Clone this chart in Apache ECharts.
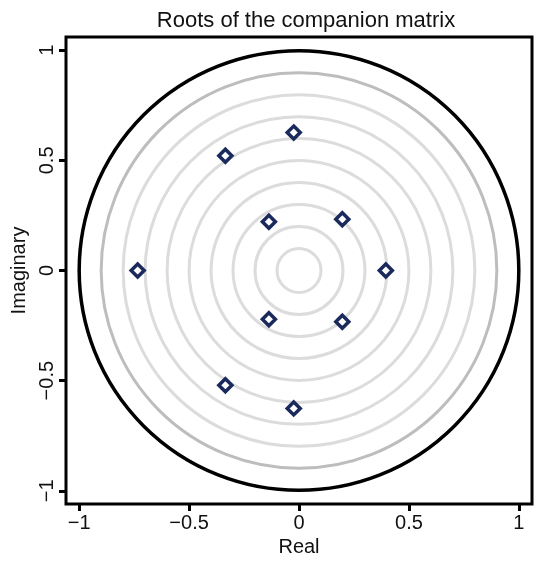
<!DOCTYPE html>
<html>
<head>
<meta charset="utf-8">
<script src="https://cdn.jsdelivr.net/npm/echarts@6/dist/echarts.min.js"></script>
<style>
  html, body { margin: 0; padding: 0; background: #fff; }
  #chart { width: 550px; height: 570px; }
</style>
</head>
<body>
<div id="chart"></div>
<script>
// roots of the companion matrix
var realPart = [-0.734, 0.395, -0.335, -0.335, -0.024, -0.024, -0.137, -0.137, 0.197, 0.197];
var imagPart = [0, 0, 0.521, -0.521, 0.626, -0.626, 0.221, -0.221, 0.233, -0.233];

// reference circles
var lightRadii = [0.1, 0.2, 0.3, 0.4, 0.5, 0.6, 0.7, 0.8];
var midRadii = [0.9];
var unitRadii = [1];

var tickValues = [-1, -0.5, 0, 0.5, 1];
var font = 'Liberation Sans, Arial, Helvetica, sans-serif';

function circleSeries(radii, color, width, z) {
  return {
    type: 'custom',
    coordinateSystem: 'cartesian2d',
    z: z,
    silent: true,
    data: radii.map(function (r) { return [r, 0]; }),
    encode: { x: 0, y: 1 },
    renderItem: function (params, api) {
      var c = api.coord([0, 0]);
      var s = api.size([api.value(0), api.value(0)]);
      return {
        type: 'circle',
        shape: { cx: c[0], cy: c[1], r: s[0] },
        style: { fill: 'none', stroke: color, lineWidth: width }
      };
    }
  };
}

var chart = echarts.init(document.getElementById('chart'));

var points = realPart.map(function (x, i) { return [x, imagPart[i]]; });

var axisCommon = {
  type: 'value',
  min: -1.06,
  max: 1.06,
  splitLine: { show: false },
  axisLine: { show: false, onZero: false },
  nameLocation: 'middle',
  nameTextStyle: { fontFamily: font, fontSize: 20, color: '#111' },
  axisTick: {
    show: true,
    inside: false,
    length: 7,
    customValues: tickValues,
    lineStyle: { color: '#000', width: 3 }
  },
  axisLabel: {
    customValues: tickValues,
    fontFamily: font,
    fontSize: 20,
    color: '#111',
    margin: 9,
    formatter: function (v) { return String(v).replace('-', '\u2212'); }
  }
};

var option = {
  animation: false,
  backgroundColor: '#fff',
  title: {
    text: 'Roots of the companion matrix',
    left: 301,
    textAlign: 'center',
    top: 5,
    textStyle: { fontFamily: font, fontSize: 22, fontWeight: 'normal', color: '#111' }
  },
  grid: {
    left: 66, right: 18, top: 37, bottom: 66,
    show: true,
    borderColor: '#000',
    borderWidth: 3,
    backgroundColor: '#fff'
  },
  xAxis: Object.assign({}, axisCommon, {
    name: 'Real',
    nameGap: 32
  }),
  yAxis: Object.assign({}, axisCommon, {
    name: 'Imaginary',
    nameGap: 35,
    axisLabel: Object.assign({}, axisCommon.axisLabel, { rotate: 90, margin: 9 })
  }),
  series: [
    circleSeries(lightRadii, '#dcdcdc', 3, 1),
    circleSeries(midRadii, '#bdbdbd', 3, 2),
    circleSeries(unitRadii, '#000000', 3.5, 3),
    {
      type: 'scatter',
      z: 5,
      data: points,
      symbol: 'diamond',
      symbolSize: 13,
      itemStyle: { color: '#fff', borderColor: '#1b2a5c', borderWidth: 3.5, opacity: 1 }
    }
  ]
};

chart.setOption(option);
</script>
</body>
</html>
